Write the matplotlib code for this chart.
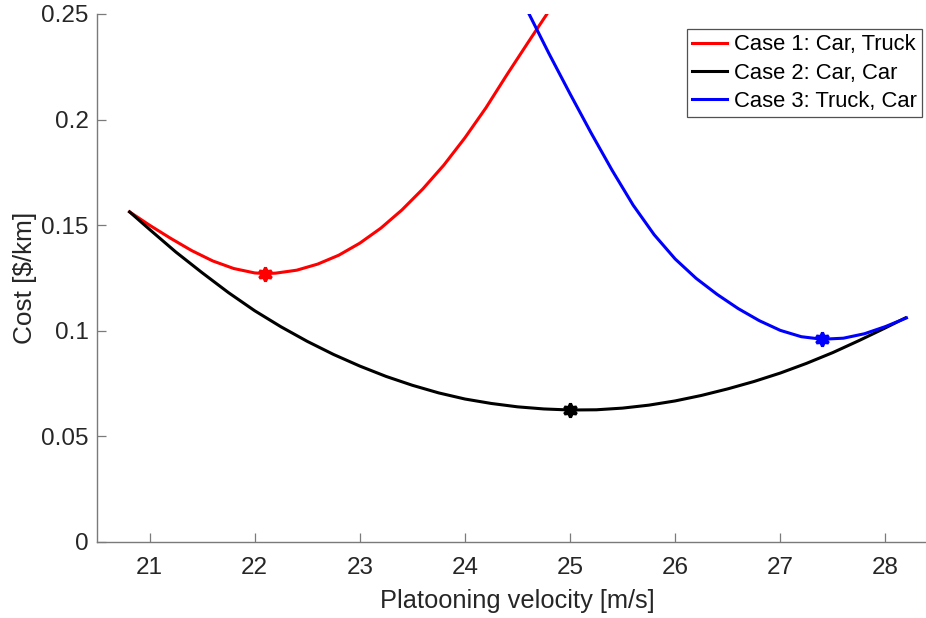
import matplotlib
matplotlib.use("Agg")
import matplotlib.pyplot as plt
from matplotlib.ticker import FixedLocator, FixedFormatter

plt.rcParams['font.family'] = ['Liberation Sans', 'DejaVu Sans']

# ---- data ----
case1_x = [20.81, 21.0, 21.2, 21.4, 21.6, 21.8, 22.0, 22.1, 22.2, 22.4, 22.6,
           22.8, 23.0, 23.2, 23.4, 23.6, 23.8, 24.0, 24.2, 24.4, 24.6, 24.78]
case1_y = [0.1563, 0.1500, 0.1438, 0.1380, 0.1331, 0.1295, 0.1274, 0.1271,
           0.1273, 0.1287, 0.1316, 0.1358, 0.1415, 0.1486, 0.1572, 0.1672,
           0.1785, 0.1914, 0.2056, 0.2213, 0.2365, 0.2500]

case2_x = [20.81, 21.0, 21.25, 21.5, 21.75, 22.0, 22.25, 22.5, 22.75, 23.0,
           23.25, 23.5, 23.75, 24.0, 24.25, 24.5, 24.75, 25.0, 25.25, 25.5,
           25.75, 26.0, 26.25, 26.5, 26.75, 27.0, 27.25, 27.5, 27.75, 28.0,
           28.19]
case2_y = [0.1563, 0.1480, 0.1373, 0.1275, 0.1181, 0.1095, 0.1019, 0.0950,
           0.0888, 0.0833, 0.0784, 0.0742, 0.0706, 0.0677, 0.0656, 0.0640,
           0.0630, 0.0625, 0.0626, 0.0634, 0.0648, 0.0668, 0.0694, 0.0725,
           0.0760, 0.0800, 0.0846, 0.0897, 0.0954, 0.1014, 0.1061]

case3_x = [24.61, 24.8, 25.0, 25.2, 25.4, 25.6, 25.8, 26.0, 26.2, 26.4, 26.6,
           26.8, 27.0, 27.2, 27.4, 27.6, 27.8, 28.0, 28.2]
case3_y = [0.2500, 0.2312, 0.2122, 0.1937, 0.1760, 0.1595, 0.1455, 0.1340,
           0.1248, 0.1172, 0.1105, 0.1048, 0.1002, 0.0972, 0.0960, 0.0965,
           0.0986, 0.1020, 0.1061]

opt_x = [22.1, 25.0, 27.4]
opt_y = [0.1271, 0.0625, 0.0960]

labels = ['Case 1: Car, Truck', 'Case 2: Car, Car', 'Case 3: Truck, Car']
colors = ['#ff0000', '#000000', '#0000ff']

xticks = [21, 22, 23, 24, 25, 26, 27, 28]
yticks = [0, 0.05, 0.1, 0.15, 0.2, 0.25]
ytick_labels = ['0', '0.05', '0.1', '0.15', '0.2', '0.25']

# ---- figure ----
W, H = 926, 618
fig = plt.figure(figsize=(W / 100, H / 100), dpi=100)
ax = fig.add_axes([97 / W, (H - 542) / H, (938 - 97) / W, (542 - 14) / H])

series = [(case1_x, case1_y), (case2_x, case2_y), (case3_x, case3_y)]
for (xs, ys), c, lab in zip(series, colors, labels):
    ax.plot(xs, ys, color=c, lw=2.2, label=lab, solid_joinstyle='round')
for x, y, c in zip(opt_x, opt_y, colors):
    ax.plot([x], [y], marker=(6, 1, 0), color=c, markersize=10,
            markeredgewidth=2.2, linestyle='none')

ax.set_xlim(20.5, 28.5)
ax.set_ylim(0, 0.25)
ax.xaxis.set_major_locator(FixedLocator(xticks))
ax.yaxis.set_major_locator(FixedLocator(yticks))
ax.yaxis.set_major_formatter(FixedFormatter(ytick_labels))

axis_col = '#262626'
for s in ['top', 'right']:
    ax.spines[s].set_visible(False)
for s in ['left', 'bottom']:
    ax.spines[s].set_color('#7a7a7a')
    ax.spines[s].set_linewidth(1.0)
ax.tick_params(direction='in', length=6.5, width=0.9, color='#7a7a7a',
               labelsize=17.5, labelcolor=axis_col)
ax.tick_params(axis='x', pad=11)
ax.tick_params(axis='y', pad=6)
ax.set_xlabel('Platooning velocity [m/s]', fontsize=18.3, color=axis_col, labelpad=7)
ax.set_ylabel(r'Cost [\$/km]', fontsize=18.8, color=axis_col, labelpad=3)

leg = ax.legend(loc='upper right', bbox_to_anchor=(922 / W, 1 - 29 / H),
                bbox_transform=fig.transFigure, fontsize=15.8, frameon=True,
                fancybox=False, borderpad=0.25, labelspacing=0.33,
                handlelength=1.6, handletextpad=0.28, borderaxespad=0)
leg.get_frame().set_edgecolor('#262626')
leg.get_frame().set_linewidth(0.9)
for t in leg.get_texts():
    t.set_color('#000000')

fig.savefig('out.png', dpi=100)
